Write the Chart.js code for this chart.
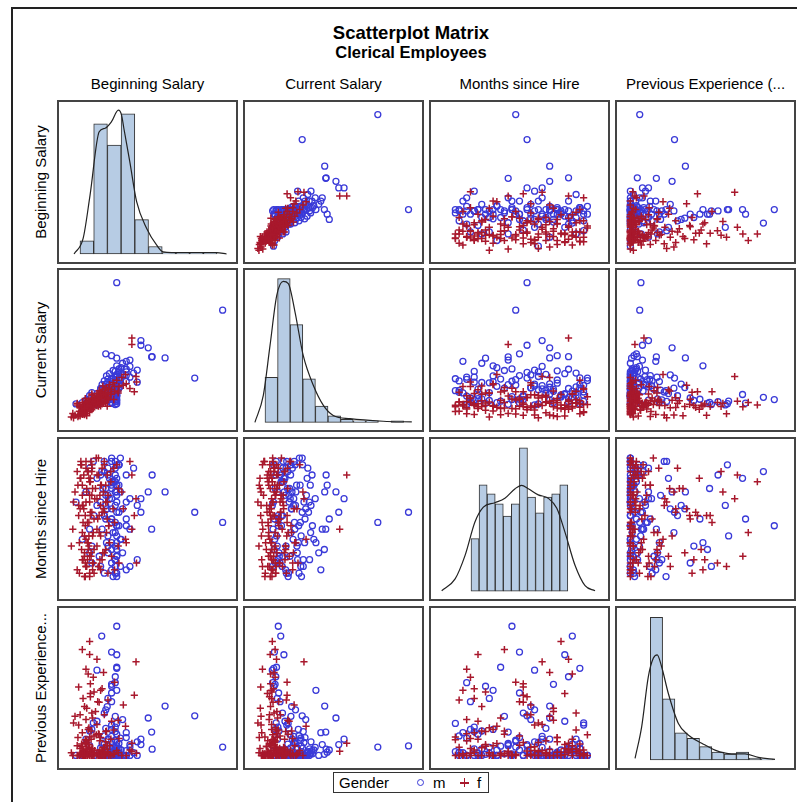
<!DOCTYPE html>
<html>
<head>
<meta charset="utf-8">
<title>Scatterplot Matrix</title>
<script src="https://cdn.jsdelivr.net/npm/chart.js@4.4.1/dist/chart.umd.min.js"></script>
<style>
  body { margin: 0; background: #fff; font-family: "Liberation Sans", Arial, sans-serif; color: #000; }
  #page { position: relative; width: 797px; height: 802px; overflow: hidden; }
  .frame { position: absolute; left: 11px; top: 7px; width: 900px; height: 900px;
           border-left: 2px solid #222; border-top: 2px solid #222; }
  .title { position: absolute; left: 211px; width: 400px; text-align: center; font-weight: bold; }
  .head { position: absolute; top: 75px; width: 181px; text-align: center; font-size: 15px;
          line-height: 18px; white-space: nowrap; }
  .side { position: absolute; left: -41px; width: 164px; height: 18px; line-height: 18px;
          text-align: center; font-size: 15px; white-space: nowrap; transform: rotate(-90deg); }
  .panel { position: absolute; box-sizing: border-box; width: 181px; height: 164px;
           border: 2px solid #444; background: #fff; }
  .panel canvas { display: block; }
  #legend { position: absolute; left: 333px; top: 772px; width: 156px; height: 21px;
            box-sizing: border-box; border: 1px solid #333; font-size: 15px; line-height: 19px; }
  #legend span { position: absolute; top: 0; }
  .mk-circle { position: absolute; top: 6px; width: 5px; height: 5px; border: 1.4px solid #3a3ad8;
               border-radius: 50%; }
  .mk-plus-h { position: absolute; top: 9px; width: 9px; height: 1.5px; background: #a8182c; }
  .mk-plus-v { position: absolute; top: 5px; width: 1.5px; height: 9px; background: #a8182c; }
</style>
</head>
<body>
<div id="page">
  <div class="frame"></div>
  <div class="title" style="top:23px;font-size:18.5px;line-height:20px;">Scatterplot Matrix</div>
  <div class="title" style="top:43px;font-size:16.5px;line-height:18px;">Clerical Employees</div>
  <div id="legend">
    <span style="left:5px;">Gender</span>
    <div class="mk-circle" style="left:83px;"></div>
    <span style="left:99px;">m</span>
    <div class="mk-plus-h" style="left:126px;"></div>
    <div class="mk-plus-v" style="left:129.8px;"></div>
    <span style="left:143px;">f</span>
  </div>
</div>
<script>
// column / row titles
const colLabels = ['Beginning Salary', 'Current Salary', 'Months since Hire', 'Previous Experience (...'];
const rowLabels = ['Beginning Salary', 'Current Salary', 'Months since Hire', 'Previous Experience...'];

// one entry per employee, four blocks: women, men, women, men
const beginSalary = [
  9000, 9750, 10200, 10200, 10500, 10950, 11250, 11250, 11250, 11550,
  11700, 12000, 12000, 12000, 12300, 12450, 12750, 12750, 12750, 12900,
  13050, 13200, 13350, 11400, 13500, 10950, 13650, 12450, 13950, 11700,
  14250, 14250, 14250, 12000, 14550, 14700, 14850, 15000, 15000, 15000,
  12600, 15300, 11850, 15600, 15750, 15750, 15750, 12150, 16050, 16200,
  16350, 16500, 16500, 16800, 17100, 17250, 17550, 17850, 18300, 18750,
  19350, 20100, 21400, 21400, 22250, 10800, 11400, 11850, 12150, 12600,
  13050, 13650, 11250, 14550, 12300, 15300, 12750, 16050, 16650, 9450,
  10650, 11100, 12300, 12900, 13350, 13200, 14700, 12900, 15450, 16350,
  17700, 18600, 19650, 11850, 13200,
  39990, 18300, 18300, 34275, 28200, 25450, 25550, 24750, 23250, 23250,
  15225, 17250, 17250, 18000, 14250, 18300, 18300, 18300, 17250, 18000,
  18000, 18300, 17250, 17250, 18000, 16500, 16500, 18750, 19500, 19500,
  20250, 20250, 21000, 19050, 18000, 18300, 17250, 15750, 15750, 16500,
  17550, 18000, 18300, 18750, 19050, 18750, 20250, 16050, 15000, 13500,
  12750, 9950, 12750, 16800, 18000, 17250, 18300, 21750, 22500, 16050,
  18000, 18300, 17250, 16500, 15750, 15450, 18750, 18000, 20250, 15000,
  13200, 22500, 21000, 18300, 17250, 16050, 18300, 17250,
  9300, 10350, 10650, 10800, 10950, 11100, 11250, 11400, 11550, 11700,
  11850, 12000, 12000, 12150, 12300, 12450, 12600, 12750, 12750, 12900,
  13050, 13200, 13200, 13350, 13350, 13500, 10500, 11700, 12600, 13650,
  13800, 14100, 14250, 14400, 14550, 14700, 14850, 15000, 15150, 15300,
  15600, 15750, 16050, 16350, 16650, 17100, 17850, 18600, 20250, 21000,
  21900, 22350,
  11250, 12000, 12750, 13200, 13650, 14250, 14700, 15000, 15300, 15750,
  15750, 16050, 16200, 16350, 16500, 16500, 16800, 17250, 17250, 17250,
  17550, 17550, 18000, 18000, 18000, 18000, 18300, 18300, 18300, 18300,
  18750, 18750, 19050, 19050, 19200, 17250, 18000, 18300, 20250, 21000
];
const currentSalary = [
  16200, 17100, 21900, 22650, 16950, 18300, 17400, 23100, 20400, 21450,
  21150, 22950, 17700, 22050, 20100, 21600, 21900, 23250, 23400, 20700,
  22500, 22350, 24150, 21300, 23100, 20550, 25200, 22800, 23850, 21000,
  21600, 26100, 23700, 20850, 25800, 22200, 27300, 24000, 21450, 26700,
  23250, 28350, 20250, 22650, 27000, 25350, 29400, 19950, 26400, 30150,
  24300, 27900, 25650, 31500, 26850, 29100, 32400, 28200, 33600, 30600,
  34950, 36300, 53650, 50650, 35400, 16650, 17550, 21750, 16800, 20250,
  22050, 21750, 19500, 23550, 20400, 25500, 21000, 22950, 24750, 15750,
  21300, 20850, 22350, 21150, 22200, 26550, 28650, 19800, 30900, 21300,
  24450, 27600, 31200, 24900, 27150,
  66900, 80000, 24450, 34650, 44250, 44700, 44850, 49050, 52500, 50250,
  25500, 22650, 23100, 22050, 21900, 22500, 23700, 26850, 22800, 31200,
  28800, 35400, 26700, 33000, 37800, 27450, 30450, 39000, 36150, 41700,
  38850, 42600, 40200, 33450, 29850, 32250, 25200, 24450, 28500, 24000,
  34350, 27000, 29400, 34800, 30750, 38100, 35850, 31800, 26100, 23550,
  22200, 22400, 24750, 36750, 33900, 30000, 40500, 37050, 32700, 28950,
  25650, 27900, 31050, 34200, 26250, 29250, 31650, 24300, 33150, 29700,
  27750, 38400, 35100, 30300, 28050, 46200, 44100, 45300,
  17850, 16350, 18900, 20700, 17700, 19350, 18150, 21600, 19800, 17250,
  22800, 18600, 20550, 23700, 19050, 21150, 24300, 18750, 22200, 20100,
  23850, 19650, 22650, 25050, 21000, 20400, 17100, 20250, 21750, 23400,
  25650, 22050, 27450, 24600, 21300, 26250, 23100, 28050, 24900, 22350,
  26700, 23850, 27600, 25200, 29850, 27150, 30600, 28500, 31950, 29700,
  28200, 32850,
  22950, 24150, 26400, 23250, 25800, 27300, 24900, 29100, 31500, 26550,
  33300, 28350, 35700, 30150, 25350, 32550, 29550, 27600, 34650, 31350,
  26100, 38250, 30900, 35100, 27750, 32400, 36450, 28650, 33750, 25800,
  37350, 29850, 34050, 31950, 39600, 24600, 23400, 26400, 37650, 43200
];
const monthsHire = [
  72, 88, 65, 94, 81, 97, 68, 76, 90, 83,
  70, 95, 66, 85, 79, 73, 91, 64, 87, 82,
  69, 96, 75, 84, 67, 92, 80, 71, 89, 63,
  86, 77, 93, 74, 98, 81, 68, 90, 65, 84,
  72, 95, 78, 88, 70, 82, 97, 66, 85, 76,
  93, 64, 87, 73, 91, 69, 83, 79, 96, 67,
  88, 74, 93, 77, 86, 92, 79, 63, 89, 75,
  97, 71, 84, 66, 94, 82, 69, 90, 78, 85,
  73, 96, 68, 81, 65, 87, 76, 92, 70, 80,
  95, 72, 83, 67, 94,
  79, 82, 78, 82, 88, 77, 93, 88, 86, 82,
  94, 71, 89, 66, 84, 96, 75, 92, 80, 97,
  64, 85, 91, 73, 68, 87, 95, 78, 83, 70,
  93, 65, 86, 98, 76, 90, 67, 81, 94, 72,
  63, 88, 69, 96, 74, 90, 80, 84, 66, 97,
  77, 85, 70, 92, 79, 83, 73, 95, 68, 87,
  91, 64, 86, 75, 81, 89, 96, 68, 78, 93,
  72, 84, 66, 88, 97, 80, 71, 90,
  77, 90, 64, 83, 96, 71, 87, 68, 93, 75,
  81, 97, 66, 88, 73, 94, 79, 63, 85, 91,
  70, 82, 95, 67, 89, 76, 84, 69, 92, 64,
  86, 98, 72, 80, 93, 66, 87, 75, 90, 68,
  83, 96, 71, 85, 78, 94, 65, 89, 73, 97,
  81, 67,
  74, 88, 95, 67, 81, 92, 69, 85, 77, 97,
  64, 89, 73, 83, 93, 70, 86, 65, 98, 79,
  91, 76, 84, 68, 95, 72, 87, 63, 90, 78,
  82, 96, 66, 88, 74, 80, 93, 69, 85, 77
];
const prevExp = [
  10, 144, 0, 36, 252, 5, 84, 390, 12, 0,
  180, 24, 318, 48, 2, 96, 420, 30, 7, 216,
  60, 0, 138, 18, 288, 3, 72, 40, 162, 0,
  114, 9, 354, 44, 0, 196, 20, 66, 240, 1,
  102, 14, 0, 306, 28, 150, 6, 54, 0, 90,
  22, 204, 11, 36, 0, 126, 4, 270, 18, 62,
  0, 108, 45, 15, 345, 26, 0, 58, 174, 8,
  0, 234, 32, 80, 0, 16, 372, 50, 2, 120,
  0, 42, 12, 264, 0, 6, 78, 228, 0, 38,
  94, 10, 186, 0, 24,
  31, 35, 476, 146, 182, 86, 23, 138, 60, 40,
  440, 255, 262, 268, 314, 321, 325, 371, 381, 0,
  12, 48, 3, 96, 24, 0, 60, 6, 132, 0,
  18, 84, 30, 0, 144, 2, 198, 0, 42, 210,
  14, 0, 78, 26, 0, 8, 66, 168, 0, 120,
  36, 0, 90, 0, 56, 5, 240, 10, 0, 100,
  20, 0, 70, 34, 156, 0, 44, 104, 0, 28,
  8, 50, 0, 16, 112, 20, 4, 12,
  0, 66, 0, 150, 8, 34, 0, 210, 16, 0,
  48, 0, 132, 22, 0, 300, 4, 68, 0, 12,
  90, 0, 156, 26, 0, 6, 112, 0, 40, 0,
  18, 76, 0, 198, 10, 0, 54, 2, 0, 246,
  30, 0, 88, 14, 0, 60, 6, 130, 0, 20,
  222, 8,
  0, 60, 18, 96, 0, 126, 8, 0, 44, 0,
  72, 2, 0, 180, 0, 24, 0, 10, 0, 52,
  0, 6, 0, 88, 0, 30, 0, 118, 4, 0,
  14, 0, 64, 0, 20, 230, 290, 0, 0, 40
];
const gender = [
  'f','f','f','f','f','f','f','f','f','f', 'f','f','f','f','f','f','f','f','f','f',
  'f','f','f','f','f','f','f','f','f','f', 'f','f','f','f','f','f','f','f','f','f',
  'f','f','f','f','f','f','f','f','f','f', 'f','f','f','f','f','f','f','f','f','f',
  'f','f','f','f','f','f','f','f','f','f', 'f','f','f','f','f','f','f','f','f','f',
  'f','f','f','f','f','f','f','f','f','f', 'f','f','f','f','f',
  'm','m','m','m','m','m','m','m','m','m', 'm','m','m','m','m','m','m','m','m','m',
  'm','m','m','m','m','m','m','m','m','m', 'm','m','m','m','m','m','m','m','m','m',
  'm','m','m','m','m','m','m','m','m','m', 'm','m','m','m','m','m','m','m','m','m',
  'm','m','m','m','m','m','m','m','m','m', 'm','m','m','m','m','m','m','m',
  'f','f','f','f','f','f','f','f','f','f', 'f','f','f','f','f','f','f','f','f','f',
  'f','f','f','f','f','f','f','f','f','f', 'f','f','f','f','f','f','f','f','f','f',
  'f','f','f','f','f','f','f','f','f','f', 'f','f',
  'm','m','m','m','m','m','m','m','m','m', 'm','m','m','m','m','m','m','m','m','m',
  'm','m','m','m','m','m','m','m','m','m', 'm','m','m','m','m','m','m','m','m','m'
];

// diagonal histograms: bin centres and percent of employees
const sbBins = [9000, 12000, 15000, 18000, 21000, 24000, 27000, 30000, 33000, 36000];
const sbPct = [3.0, 29.6, 24.8, 31.9, 7.8, 1.7, 0.3, 0.3, 0.3, 0.3];
const csBins = [18000, 24000, 30000, 36000, 42000, 48000, 54000, 60000, 66000, 72000, 78000];
const csPct = [12.5, 40.0, 27.2, 12.1, 4.5, 1.8, 0.8, 0.4, 0.4, 0, 0.4];
const moBins = [64, 67, 70, 73, 76, 79, 82, 85, 88, 91, 94, 97];
const moPct = [4.7, 9.5, 8.7, 7.8, 6.7, 7.8, 12.8, 8.4, 7.0, 8.4, 8.7, 9.5];
const peBins = [25, 75, 125, 175, 225, 275, 325, 375, 425, 475];
const pePct = [49.1, 21.1, 9.4, 7.5, 4.6, 2.7, 2.0, 2.7, 0.7, 0.3];

// kernel density curves
const sbDensX = [6200, 8200, 9700, 11700, 13000, 14400, 15900, 16600, 17100, 18400, 19900, 22100, 24300, 25700, 30100, 37400, 39600];
const sbDensY = [0, 3.6, 13.4, 27.8, 28.6, 30.1, 32.7, 31.6, 28.6, 21.0, 11.9, 5.8, 2.0, 0.5, 0.3, 0.3, 0];
const csDensX = [10200, 14200, 17400, 20600, 23700, 26100, 29300, 33200, 38000, 42800, 47500, 55500, 71300, 84900];
const csDensY = [0, 7.5, 21.4, 35.3, 39.2, 38.6, 30.7, 18.6, 10.3, 4.7, 1.9, 1.0, 0.3, 0.1];
const moDensX = [51.6, 56.6, 60.3, 64.0, 67.1, 71.4, 75.1, 78.9, 81.3, 83.8, 87.5, 91.2, 94.4, 97.4, 101.2, 104.9, 108.6];
const moDensY = [0.05, 1.1, 3.2, 6.2, 7.5, 7.9, 8.3, 9.15, 9.45, 9.15, 8.6, 8.3, 7.4, 5.3, 2.3, 0.5, 0.05];
const peDensX = [-62, -35, -8, 12, 28, 46, 73, 114, 154, 209, 263, 331, 385, 439, 507];
const peDensY = [0.6, 11.5, 28.7, 35.0, 36.2, 32.1, 23.0, 12.6, 8.6, 5.8, 3.4, 2.1, 2.1, 0.9, 0.2];

const variables = [beginSalary, currentSalary, monthsHire, prevExp];
const histograms = [
  { bins: sbBins, pct: sbPct, dx: sbDensX, dy: sbDensY },
  { bins: csBins, pct: csPct, dx: csDensX, dy: csDensY },
  { bins: moBins, pct: moPct, dx: moDensX, dy: moDensY },
  { bins: peBins, pct: pePct, dx: peDensX, dy: peDensY }
];

// axis ranges (off-diagonal panels share one range per variable)
const scatterRange = [[7600, 41600], [12600, 83400], [58, 102], [-26, 523]];
const diagXRange = [[2900, 41660], [5480, 89760], [47.63, 113.43], [-135.4, 584.1]];
const diagYRange = [[-1.82, 34.57], [-2.14, 42.39], [-0.69, 13.58], [-2.75, 52.34]];

const colX = [57, 243, 429, 615];
const rowY = [100, 268, 437, 606];
const BLUE = '#3a3ad8';
const RED = '#a8182c';

function baseOptions(xr, yr) {
    return {
        responsive: false,
        animation: false,
        events: [],
        layout: { padding: 0 },
        plugins: { legend: { display: false }, tooltip: { enabled: false } },
        scales: {
            x: { type: 'linear', display: false, offset: false, min: xr[0], max: xr[1] },
            y: { type: 'linear', display: false, min: yr[0], max: yr[1] }
        }
    };
}

function makeCanvas(r, c) {
    const page = document.getElementById('page');
    const panel = document.createElement('div');
    panel.className = 'panel';
    panel.style.left = colX[c] + 'px';
    panel.style.top = rowY[r] + 'px';
    const canvas = document.createElement('canvas');
    canvas.width = 177;
    canvas.height = 160;
    panel.appendChild(canvas);
    page.appendChild(panel);
    return canvas;
}

// Scatter cell: x from column variable, y from row variable
function drawScatter(r, c) {
    const men = [];
    const women = [];
    gender.forEach((g, i) => {
        const p = { x: variables[c][i], y: variables[r][i] };
        if (g === 'm') men.push(p); else women.push(p);
    });
    new Chart(makeCanvas(r, c), {
        type: 'scatter',
        data: {
            datasets: [
                { data: men, pointStyle: 'circle', pointRadius: 3, pointBorderWidth: 1.3,
                  borderColor: BLUE, backgroundColor: 'rgba(0,0,0,0)', order: 1 },
                { data: women, pointStyle: 'cross', pointRadius: 3.6, pointBorderWidth: 1.5,
                  borderColor: RED, backgroundColor: RED, order: 0 }
            ]
        },
        options: baseOptions(scatterRange[c], scatterRange[r])
    });
}

// Diagonal cell: histogram plus density curve
function drawHistogram(k) {
    const h = histograms[k];
    new Chart(makeCanvas(k, k), {
        type: 'bar',
        data: {
            datasets: [
                { type: 'line', data: h.dx.map((x, i) => ({ x: x, y: h.dy[i] })),
                  borderColor: '#222', borderWidth: 1.2, pointRadius: 0, fill: false,
                  cubicInterpolationMode: 'monotone', order: 0 },
                { type: 'bar', data: h.bins.map((x, i) => ({ x: x, y: h.pct[i] })),
                  backgroundColor: '#b7cce4', borderColor: '#333', borderWidth: 1,
                  borderSkipped: false, barPercentage: 1, categoryPercentage: 1, order: 1 }
            ]
        },
        options: baseOptions(diagXRange[k], diagYRange[k])
    });
}

function drawLabels() {
    const page = document.getElementById('page');
    colLabels.forEach((t, c) => {
        const d = document.createElement('div');
        d.className = 'head';
        d.style.left = colX[c] + 'px';
        d.textContent = t;
        page.appendChild(d);
    });
    rowLabels.forEach((t, r) => {
        const d = document.createElement('div');
        d.className = 'side';
        d.style.top = (rowY[r] + 82 - 9) + 'px';
        d.textContent = t;
        page.appendChild(d);
    });
}

drawLabels();
for (let r = 0; r < 4; r++) {
    for (let c = 0; c < 4; c++) {
        if (r === c) drawHistogram(r); else drawScatter(r, c);
    }
}
</script>
</body>
</html>
